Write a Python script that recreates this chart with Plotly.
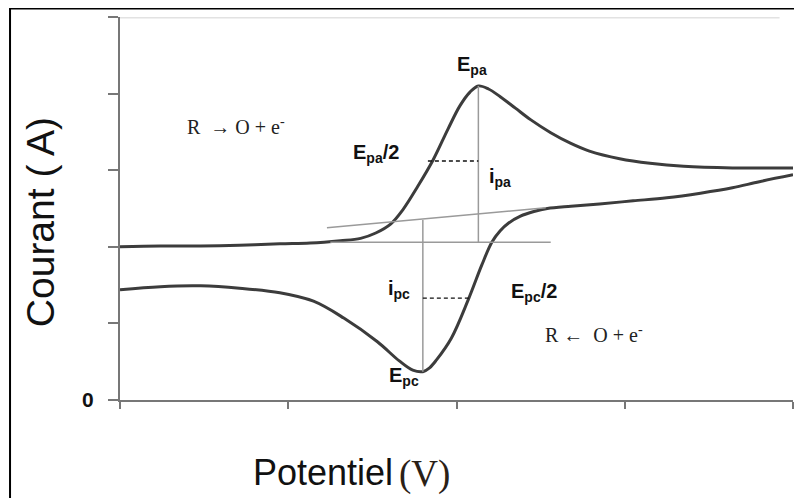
import plotly.graph_objects as go

# voltammogramme cyclique (unites arbitraires)
fwd_E = [0.00, 0.24, 0.48, 0.71, 0.95, 1.13, 1.31, 1.43, 1.52, 1.61, 1.68, 1.77, 1.86, 1.95, 2.02, 2.08, 2.13,
         2.19, 2.26, 2.35, 2.44, 2.56, 2.68, 2.79, 2.97, 3.15, 3.35, 3.64, 4.00]
fwd_I = [2.00, 2.01, 2.01, 2.02, 2.04, 2.05, 2.08, 2.11, 2.18, 2.30, 2.48, 2.79, 3.13, 3.54, 3.84, 4.02, 4.10,
         4.06, 3.96, 3.81, 3.66, 3.49, 3.35, 3.25, 3.15, 3.09, 3.05, 3.03, 3.03]

rev_E = [4.00, 3.80, 3.64, 3.45, 3.25, 3.05, 2.85, 2.68, 2.54, 2.46, 2.38, 2.31, 2.26, 2.21, 2.15, 2.07, 1.97, 1.88,
         1.84, 1.80, 1.74, 1.66, 1.53, 1.33, 1.15, 0.95, 0.71, 0.48, 0.24, 0.00]
rev_I = [2.94, 2.85, 2.77, 2.70, 2.64, 2.60, 2.56, 2.53, 2.50, 2.46, 2.40, 2.31, 2.21, 2.06, 1.76, 1.31, 0.81, 0.52,
         0.42, 0.37, 0.39, 0.51, 0.76, 1.07, 1.29, 1.40, 1.46, 1.49, 1.48, 1.44]

# lignes de construction
base_E = [1.25, 2.56]
base_I = [2.06, 2.06]
tangent_E = [1.23, 2.53]
tangent_I = [2.25, 2.51]
Epa, ipa_top, ipa_base = 2.13, 4.10, 2.06
Epc, ipc_bottom, ipc_base = 1.80, 0.37, 2.35
Epa_half_E, Epa_half_I = 1.83, 3.12
Epc_half_E, Epc_half_I = 2.08, 1.33

xticks = [0, 1, 2, 3, 4]
yticks = [0, 1, 2, 3, 4, 5]
yticktext = ["<b>0</b>", "", "", "", "", ""]

curve = dict(color="#3c3c3c", width=3, shape="spline", smoothing=1)
guide = dict(color="#9a9a9a", width=1.5)
dashed = dict(color="#111", width=1.3, dash="4px,3px")

fig = go.Figure()
fig.add_trace(go.Scatter(x=fwd_E, y=fwd_I, mode="lines", line=curve))
fig.add_trace(go.Scatter(x=rev_E, y=rev_I, mode="lines", line=curve))
fig.add_trace(go.Scatter(x=base_E, y=base_I, mode="lines", line=guide))
fig.add_trace(go.Scatter(x=tangent_E, y=tangent_I, mode="lines", line=guide))
fig.add_trace(go.Scatter(x=[Epa, Epa], y=[ipa_top, ipa_base], mode="lines", line=guide))
fig.add_trace(go.Scatter(x=[Epc, Epc], y=[ipc_bottom, ipc_base], mode="lines", line=guide))
fig.add_trace(go.Scatter(x=[Epa_half_E, Epa], y=[Epa_half_I, Epa_half_I], mode="lines", line=dashed))
fig.add_trace(go.Scatter(x=[Epc, Epc_half_E], y=[Epc_half_I, Epc_half_I], mode="lines", line=dashed))

bold = dict(family="Arial, Liberation Sans", size=20, color="#111")
serif = dict(family="Liberation Serif, Times New Roman", size=20, color="#222")
labels = [
    (2.09, 4.37, "<b>E<sub>pa</sub></b>", bold),
    (1.52, 3.22, "<b>E<sub>pa</sub>/2</b>", bold),
    (2.26, 2.90, "<b>i<sub>pa</sub></b>", bold),
    (1.66, 1.44, "<b>i<sub>pc</sub></b>", bold),
    (2.46, 1.40, "<b>E<sub>pc</sub>/2</b>", bold),
    (1.69, 0.31, "<b>E<sub>pc</sub></b>", bold),
    (0.69, 3.58, "R  \u2192 O + e<sup>-</sup>", serif),
    (2.82, 0.86, "R \u2190  O + e<sup>-</sup>", serif),
]
for x, y, t, f in labels:
    fig.add_annotation(x=x, y=y, text=t, showarrow=False, font=f)

# titres des axes
fig.add_annotation(xref="paper", yref="paper", x=-0.117, y=0.465, text="Courant ( A)",
                   textangle=-90, showarrow=False, xanchor="center", yanchor="middle",
                   font=dict(family="Arial, Liberation Sans", size=39, color="#111"))
fig.add_annotation(xref="paper", yref="paper", x=0.409, y=-0.188, text="Potentiel",
                   xanchor="right", yanchor="middle", showarrow=False,
                   font=dict(family="Arial, Liberation Sans", size=36, color="#111"))
fig.add_annotation(xref="paper", yref="paper", x=0.411, y=-0.193, text="(V)",
                   xanchor="left", yanchor="middle", showarrow=False,
                   font=dict(family="Liberation Serif, Times New Roman", size=37, color="#2a2016"))

# cadre et lignes pales
fig.add_shape(type="rect", xref="paper", yref="paper", x0=-0.1634, x1=1.05, y0=-0.3, y1=1.0222,
              line=dict(color="black", width=2))
fig.add_shape(type="line", x0=0, x1=3.92, y0=5, y1=5, line=dict(color="#e2e2e2", width=3))
fig.add_shape(type="line", x0=4.01, x1=4.01, y0=0, y1=4.2, line=dict(color="#ebebeb", width=2))

# la page ajoute 8 px de marge autour du graphique
fig.update_layout(
    width=802, height=498,
    margin=dict(l=112, r=17, t=9, b=106),
    paper_bgcolor="white", plot_bgcolor="white",
    showlegend=False,
)
fig.update_xaxes(range=[0, 4], tickvals=xticks, ticktext=[""] * 5, ticks="outside", ticklen=7,
                 tickcolor="#777", tickwidth=2, showline=True, linecolor="#777", linewidth=2,
                 showgrid=False, zeroline=False)
fig.update_yaxes(range=[0, 5], tickvals=yticks, ticktext=yticktext, ticks="outside", ticklen=10,
                 tickcolor="#777", tickwidth=2, showline=True, linecolor="#777", linewidth=2,
                 showgrid=False, zeroline=False, ticklabelstandoff=10,
                 tickfont=dict(family="Arial, Liberation Sans", size=21, color="#111"))

fig.write_html("out.html")
